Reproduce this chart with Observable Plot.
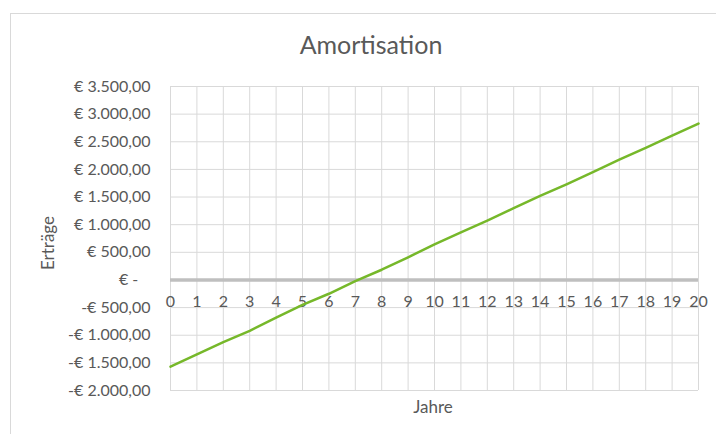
<!DOCTYPE html>
<html><head><meta charset="utf-8">
<script src="https://cdn.jsdelivr.net/npm/d3@7"></script>
<script src="https://cdn.jsdelivr.net/npm/@observablehq/plot@0.6"></script>
<style>
body{margin:0;background:#fff;}
svg{font-family:Lato,"Open Sans",sans-serif;}
</style>
</head><body>
<div id="chart"></div>
<script>
const title = "Amortisation";
const xLabel = "Jahre";
const yLabel = "Erträge";
const years = [0,1,2,3,4,5,6,7,8,9,10,11,12,13,14,15,16,17,18,19,20];
const ertraege = [-1570,-1345,-1125,-920,-680,-450,-250,-20,185,410,645,860,1075,1300,1520,1730,1950,2175,2390,2610,2830];
const yTicks = [-2000,-1500,-1000,-500,0,500,1000,1500,2000,2500,3000,3500];

const data = years.map((y,i)=>({year:y, value:ertraege[i]}));
const fmtNum = d3.formatLocale({decimal:",", thousands:".", grouping:[3], currency:["€ ",""]}).format(",.2f");
const fmtY = v => v === 0 ? "€ -\u00a0\u00a0\u00a0" : (v < 0 ? "-€ " + fmtNum(-v) : "€ " + fmtNum(v));

const grid = "#d9d9d9", txt = "#595959";
const plot = Plot.plot({
  width: 716, height: 434,
  marginLeft: 170, marginRight: 18, marginTop: 86, marginBottom: 44,
  style: {fontFamily: "Lato, 'Open Sans', sans-serif", background: "#fff", overflow: "visible"},
  x: {domain: [0, 20], axis: null},
  y: {domain: [-2000, 3500], axis: null},
  marks: [
    Plot.ruleX(years, {stroke: grid, strokeWidth: 1}),
    Plot.ruleY(yTicks, {stroke: grid, strokeWidth: 1}),
    Plot.ruleY([0], {stroke: "#bfbfbf", strokeWidth: 3.5}),
    Plot.axisY(yTicks, {tickSize: 0, tickPadding: 20, tickFormat: fmtY, fontSize: 16, fill: txt, label: null}),
    Plot.text(years, {x: d => d, y: () => 0, dy: 22, text: d => String(d), fontSize: 16, fill: txt}),
    Plot.line(data, {x: "year", y: "value", stroke: "#76b82a", strokeWidth: 2.5})
  ]
});
const svg = d3.select(plot);
svg.insert("rect", ":first-child").attr("x", 10.5).attr("y", 13.5).attr("width", 720).attr("height", 440)
  .attr("fill", "#fff").attr("stroke", "#d9d9d9");
svg.append("text").attr("x", 371).attr("y", 54).attr("text-anchor", "middle").attr("font-size", 25).attr("fill", txt).text(title);
svg.append("text").attr("x", 433).attr("y", 413).attr("text-anchor", "middle").attr("font-size", 17).attr("fill", txt).text(xLabel);
svg.append("text").attr("transform", "translate(54,243) rotate(-90)").attr("text-anchor", "middle").attr("font-size", 17).attr("fill", txt).text(yLabel);
document.getElementById("chart").appendChild(plot);
</script>
</body></html>
